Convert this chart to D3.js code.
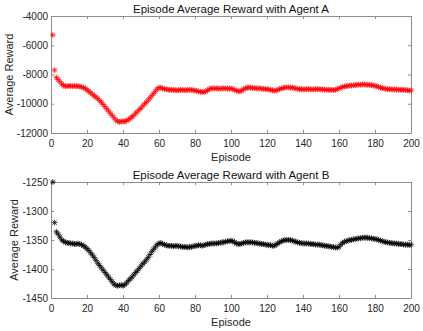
<!DOCTYPE html>
<html>
<head>
<meta charset="utf-8">
<script src="https://cdn.jsdelivr.net/npm/d3@7"></script>
<style>
  body { margin: 0; background: #fff; }
  svg { display: block; font-family: "Liberation Sans", Arial, sans-serif; }
  .axis path, .axis line { stroke: #8c8c8c; }
  .axis text { fill: #262626; font-size: 10px; }
</style>
</head>
<body>
<div id="chart"></div>
<script>
// episodes 1..200
const episodes = d3.range(1, 201)

const rewardA = [
  -5300, -7700, -8200, -8350, -8500, -8650, -8750, -8800, -8800, -8780,
  -8780, -8800, -8780, -8800, -8800, -8820, -8850, -8900, -8950, -9050,
  -9150, -9250, -9350, -9450, -9550, -9650, -9780, -9900, -10050, -10200,
  -10350, -10500, -10650, -10800, -10950, -11100, -11200, -11250, -11200, -11200,
  -11220, -11150, -11100, -11000, -10900, -10800, -10650, -10550, -10400, -10300,
  -10150, -10000, -9900, -9750, -9600, -9450, -9300, -9150, -9000, -8900,
  -8900, -8950, -9000, -9000, -9050, -9050, -9050, -9050, -9080, -9080,
  -9080, -9050, -9050, -9080, -9080, -9050, -9050, -9050, -9080, -9100,
  -9120, -9150, -9180, -9200, -9200, -9150, -9080, -9000, -8950, -8950,
  -8950, -8950, -8970, -8970, -8950, -8950, -8950, -8970, -8970, -8950,
  -9000, -9050, -9100, -9150, -9150, -9100, -9000, -8950, -8900, -8900,
  -8900, -8920, -8920, -8950, -8950, -8950, -8970, -8980, -9000, -9000,
  -9020, -9050, -9080, -9100, -9100, -9050, -9000, -8950, -8920, -8900,
  -8880, -8880, -8900, -8900, -8920, -8950, -8980, -9000, -9000, -9020,
  -9020, -9000, -9000, -9000, -9020, -9020, -9000, -9000, -9000, -9020,
  -9020, -9030, -9050, -9050, -9050, -9060, -9060, -9050, -9000, -8950,
  -8900, -8850, -8820, -8800, -8780, -8760, -8750, -8740, -8720, -8700,
  -8700, -8700, -8680, -8680, -8700, -8700, -8720, -8720, -8750, -8780,
  -8800, -8850, -8900, -8930, -8950, -8980, -9000, -9000, -9020, -9020,
  -9030, -9030, -9050, -9050, -9050, -9050, -9060, -9080, -9100, -9080
]

const rewardB = [
  -1250, -1320, -1336, -1340, -1345, -1350, -1352, -1354, -1355, -1355,
  -1356, -1356, -1357, -1357, -1356, -1357, -1358, -1360, -1362, -1365,
  -1368, -1372, -1376, -1380, -1385, -1390, -1394, -1398, -1402, -1406,
  -1410, -1414, -1418, -1422, -1426, -1428, -1429, -1428, -1428, -1429,
  -1427, -1424, -1420, -1417, -1414, -1410, -1406, -1403, -1399, -1395,
  -1391, -1388, -1384, -1380, -1375, -1370, -1366, -1362, -1358, -1356,
  -1355, -1357, -1358, -1359, -1360, -1360, -1360, -1361, -1360, -1360,
  -1361, -1361, -1362, -1362, -1362, -1363, -1362, -1362, -1361, -1360,
  -1360, -1359, -1359, -1360, -1359, -1358, -1357, -1357, -1356, -1356,
  -1356, -1356, -1355, -1355, -1354, -1354, -1353, -1352, -1352, -1351,
  -1352, -1354, -1356, -1357, -1357, -1356, -1355, -1354, -1354, -1354,
  -1354, -1354, -1355, -1355, -1356, -1356, -1357, -1357, -1358, -1358,
  -1359, -1359, -1360, -1360, -1358, -1356, -1354, -1352, -1351, -1350,
  -1350, -1350, -1350, -1351, -1352, -1353, -1354, -1355, -1355, -1356,
  -1356, -1356, -1356, -1357, -1357, -1357, -1358, -1358, -1358, -1359,
  -1359, -1360, -1360, -1361, -1361, -1362, -1362, -1363, -1363, -1362,
  -1358, -1355, -1353, -1352, -1351, -1350, -1350, -1349, -1348, -1348,
  -1347, -1347, -1346, -1346, -1346, -1346, -1347, -1347, -1348, -1348,
  -1349, -1350, -1351, -1352, -1353, -1354, -1354, -1355, -1355, -1356,
  -1356, -1356, -1357, -1357, -1357, -1358, -1358, -1358, -1359, -1358
]

const xTicks = [0, 20, 40, 60, 80, 100, 120, 140, 160, 180, 200]
const yTicksA = [-12000, -10000, -8000, -6000, -4000]
const yTicksB = [-1450, -1400, -1350, -1300, -1250]

const W = 423, H = 331

const svg = d3.select("#chart").append("svg")
    .attr("width", W)
    .attr("height", H)

// matlab style '*' marker: plus + cross
const starSymbol = {
    draw(ctx, size) {
        const r = Math.sqrt(size) / 2
        const d = r * 0.72
        ctx.moveTo(-r, 0); ctx.lineTo(r, 0)
        ctx.moveTo(0, -r); ctx.lineTo(0, r)
        ctx.moveTo(-d, -d); ctx.lineTo(d, d)
        ctx.moveTo(-d, d); ctx.lineTo(d, -d)
    }
}

function panel(opts) {
    const x = d3.scaleLinear().domain([0, 200]).range([opts.left, opts.right])
    const y = d3.scaleLinear().domain(opts.yDomain).range([opts.bottom, opts.top])

    const g = svg.append("g")

    // box: top + right, ticks inward, no labels
    g.append("g").attr("class", "axis")
        .attr("transform", "translate(0," + opts.top + ")")
        .call(d3.axisTop(x).tickValues(xTicks).tickSizeInner(-3).tickSizeOuter(0).tickFormat(""))
    g.append("g").attr("class", "axis")
        .attr("transform", "translate(" + opts.right + ",0)")
        .call(d3.axisRight(y).tickValues(opts.yTicks).tickSizeInner(-3).tickSizeOuter(0).tickFormat(""))

    g.append("g").attr("class", "axis")
        .attr("transform", "translate(0," + opts.bottom + ")")
        .call(d3.axisBottom(x).tickValues(xTicks).tickSizeInner(-3).tickSizeOuter(0).tickPadding(7))
    g.append("g").attr("class", "axis")
        .attr("transform", "translate(" + opts.left + ",0)")
        .call(d3.axisLeft(y).tickValues(opts.yTicks).tickSizeInner(-3).tickSizeOuter(0).tickPadding(3)
            .tickFormat(d3.format("d")))

    g.selectAll(".axis text").text(function() { return this.textContent.replace("\u2212", "-") })

    const sym = d3.symbol().type(starSymbol).size(34)
    g.append("g")
        .selectAll("path")
        .data(opts.values)
        .join("path")
        .attr("transform", (d, i) => "translate(" + x(episodes[i]) + "," + y(d) + ")")
        .attr("d", sym)
        .attr("fill", "none")
        .attr("stroke", opts.color)
        .attr("stroke-opacity", 0.85)
        .attr("stroke-width", 0.9)

    g.append("text")
        .attr("x", (opts.left + opts.right) / 2)
        .attr("y", opts.top - 3)
        .attr("text-anchor", "middle")
        .attr("font-size", 11.5)
        .attr("fill", "#111")
        .text(opts.title)

    g.append("text")
        .attr("x", (opts.left + opts.right) / 2)
        .attr("y", opts.bottom + 28)
        .attr("text-anchor", "middle")
        .attr("font-size", 11)
        .attr("fill", "#262626")
        .text("Episode")

    g.append("text")
        .attr("transform", "translate(" + opts.ylabelX + "," + ((opts.top + opts.bottom) / 2) + ") rotate(-90)")
        .attr("text-anchor", "middle")
        .attr("font-size", 11)
        .attr("fill", "#262626")
        .text("Average Reward")
}

panel({
    left: 51, right: 411, top: 16, bottom: 133,
    yDomain: [-12000, -4000], yTicks: yTicksA,
    values: rewardA, color: "#ff0000",
    title: "Episode Average Reward with Agent A",
    ylabelX: 13
})

panel({
    left: 51, right: 411, top: 182, bottom: 298,
    yDomain: [-1450, -1250], yTicks: yTicksB,
    values: rewardB, color: "#000000",
    title: "Episode Average Reward with Agent B",
    ylabelX: 18
})
</script>
</body>
</html>
